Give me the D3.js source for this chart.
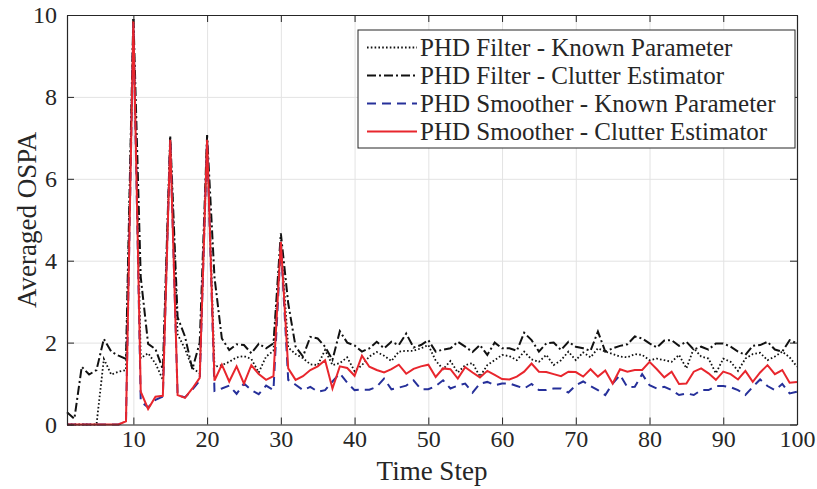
<!DOCTYPE html>
<html lang="en">
<head>
  <meta charset="UTF-8">
  <title>Averaged OSPA over Time Step</title>
  <script src="https://d3js.org/d3.v7.min.js"></script>
  <style>
    body {
      margin: 0;
      background: #ffffff;
      font-family: "Liberation Serif", "Times New Roman", serif;
    }
    .grid line {
      stroke: #e3e3e3;
      stroke-width: 1;
    }
    .grid path {
      display: none;
    }
    .axis path,
    .axis line {
      stroke: #262626;
    }
    .axis text {
      fill: #262626;
      font-family: "Liberation Serif", serif;
      font-size: 24px;
    }
  </style>
</head>
<body>
  <div id="chart"></div>
  <script>
    const timeSteps = d3.range(1, 101);
    const xTicks = [10, 20, 30, 40, 50, 60, 70, 80, 90, 100];
    const yTicks = [0, 2, 4, 6, 8, 10];

    const filterKnown = [
      0, 0, 0, 0, 0, 1.6, 1.22, 1.29, 1.33, 9.9,
      1.62, 1.74, 1.49, 1.09, 7.0, 2.2, 1.85, 1.38, 1.25, 7.0,
      1.41, 1.45, 1.53, 1.64, 1.67, 1.6, 1.27, 1.66, 1.8, 4.5,
      1.88, 1.72, 1.62, 1.47, 1.45, 1.82, 1.45, 1.5, 1.64, 1.3,
      1.45, 1.66, 1.77, 1.68, 1.55, 1.78, 1.8, 1.8, 1.86, 1.94,
      1.56, 1.35, 1.55, 1.27, 1.45, 1.5, 1.17, 1.45, 1.57, 1.7,
      1.67, 1.57, 1.78, 1.59, 1.53, 1.7, 1.45, 1.57, 1.78, 1.57,
      1.76, 1.64, 1.86, 1.78, 1.72, 1.66, 1.64, 1.72, 1.7, 1.57,
      1.61, 1.57, 1.53, 1.7, 1.37, 1.86, 1.66, 1.61, 1.25, 1.61,
      1.53, 1.31, 1.61, 1.72, 1.75, 1.57, 1.66, 1.78, 1.64, 1.41
    ];
    const filterEstimator = [
      0.3, 0.14, 1.41, 1.22, 1.33, 2.09, 1.78, 1.68, 1.6, 10.0,
      3.6, 1.97, 1.84, 1.35, 7.05, 2.62, 2.15, 1.35, 2.0, 7.07,
      3.6, 2.1, 1.82, 1.96, 1.94, 1.74, 1.97, 1.86, 1.98, 4.67,
      2.96, 1.9, 1.66, 2.14, 2.1, 1.9, 1.58, 2.28, 2.0, 1.93,
      1.78, 1.86, 2.02, 1.86, 2.02, 1.94, 2.22, 1.88, 1.94, 2.06,
      1.78, 1.83, 1.86, 2.02, 1.9, 1.77, 1.94, 1.7, 2.0, 1.86,
      1.86, 1.8, 2.24, 2.06, 1.78, 1.98, 2.0, 1.82, 2.02, 1.9,
      1.86, 1.8, 2.27, 1.78, 1.86, 1.92, 1.96, 2.15, 2.1, 1.98,
      1.88, 2.05, 2.06, 1.92, 2.02, 1.83, 1.9, 1.83, 1.98, 1.98,
      1.9, 1.78, 1.7, 1.92, 1.94, 2.02, 1.83, 1.78, 2.06, 1.98
    ];
    const smootherKnown = [
      0, 0, 0, 0, 0, 0, 0, 0, 0.08, 9.8,
      0.56, 0.42, 0.6, 0.68, 6.95, 0.72, 0.66, 0.85, 1.07, 6.95,
      0.82, 0.88, 0.95, 0.75, 1.0, 0.84, 0.74, 0.95, 0.84, 4.4,
      1.09, 0.97, 0.84, 0.92, 0.8, 0.84, 1.05, 1.25, 1.02, 0.84,
      0.85, 0.85, 0.92, 1.12, 0.86, 0.9, 0.95, 1.08, 0.86, 0.86,
      0.94, 1.08, 0.88, 0.95, 1.0, 0.78, 1.0, 1.04, 0.96, 1.0,
      1.0, 0.94, 0.88, 0.99, 0.84, 0.84, 0.88, 0.88, 0.78, 0.96,
      1.05, 0.94, 0.84, 0.72, 1.0, 1.21, 0.91, 0.92, 1.23, 0.96,
      0.88, 0.92, 0.84, 0.72, 0.76, 0.72, 0.84, 0.84, 0.94, 0.94,
      0.91, 0.84, 0.72, 0.92, 1.1, 0.94, 0.84, 0.99, 0.76, 0.8
    ];
    const smootherEstimator = [
      0, 0, 0, 0, 0, 0, 0, 0, 0.08, 9.85,
      0.8, 0.38, 0.68, 0.7, 6.95, 0.72, 0.65, 0.88, 1.14, 6.95,
      1.07, 1.46, 1.05, 1.42, 1.0, 1.45, 1.23, 1.09, 1.18, 4.46,
      1.37, 1.09, 1.18, 1.33, 1.42, 1.57, 0.88, 1.42, 1.38, 1.19,
      1.68, 1.41, 1.33, 1.27, 1.35, 1.46, 1.24, 1.36, 1.42, 1.46,
      1.16, 1.37, 1.35, 1.12, 1.4, 1.27, 1.15, 1.31, 1.21, 1.11,
      1.1, 1.17, 1.29, 1.49, 1.29, 1.28, 1.23, 1.18, 1.29, 1.28,
      1.17, 1.35, 1.17, 1.32, 1.0, 1.35, 1.29, 1.33, 1.33, 1.53,
      1.35, 1.15, 1.29, 0.99, 1.0, 1.29, 1.37, 1.25, 1.09, 1.29,
      1.23, 1.1, 1.31, 1.04, 1.27, 1.45, 1.23, 1.33, 1.02, 1.04
    ];

    const seriesNames = [
      "PHD Filter - Known Parameter",
      "PHD Filter - Clutter Estimator",
      "PHD Smoother - Known Parameter",
      "PHD Smoother - Clutter Estimator"
    ];

    const series = [
      {name: seriesNames[0], values: filterKnown, color: "#111", dash: "1.6,2.2", width: 1.8},
      {name: seriesNames[1], values: filterEstimator, color: "#111", dash: "9,3,2,3", width: 2},
      {name: seriesNames[2], values: smootherKnown, color: "#26309a", dash: "9,6", width: 2},
      {name: seriesNames[3], values: smootherEstimator, color: "#e8262d", dash: null, width: 2}
    ];

    const margin = {top: 15, right: 20, bottom: 64.5, left: 67},
      width = 817 - margin.left - margin.right,
      height = 489 - margin.top - margin.bottom;

    const svg = d3.select("#chart")
      .append("svg")
      .attr("width", 817)
      .attr("height", 489)
      .append("g")
      .attr("transform", "translate(" + margin.left + "," + margin.top + ")");

    const x = d3.scaleLinear().domain([1, 100]).range([0, width]);
    const y = d3.scaleLinear().domain([0, 10]).range([height, 0]);

    // grid
    svg.append("g")
      .attr("class", "grid")
      .attr("transform", "translate(0," + height + ")")
      .call(d3.axisBottom(x).tickValues(xTicks).tickSize(-height).tickFormat(""));
    svg.append("g")
      .attr("class", "grid")
      .call(d3.axisLeft(y).tickValues(yTicks).tickSize(-width).tickFormat(""));

    // lines
    const line = d3.line()
      .x((d, i) => x(timeSteps[i]))
      .y(d => y(d));

    const plot = svg.append("g");
    series.forEach(s => {
      plot.append("path")
        .datum(s.values)
        .attr("fill", "none")
        .attr("stroke", s.color)
        .attr("stroke-width", s.width)
        .attr("stroke-dasharray", s.dash)
        .attr("stroke-linejoin", "miter")
        .attr("d", line);
    });

    // axes, MATLAB style box with inner ticks
    svg.append("g")
      .attr("class", "axis")
      .attr("transform", "translate(0," + height + ")")
      .call(d3.axisBottom(x).tickValues(xTicks).tickSizeInner(-7).tickSizeOuter(0).tickPadding(5));
    svg.append("g")
      .attr("class", "axis")
      .call(d3.axisTop(x).tickValues(xTicks).tickSizeInner(-7).tickSizeOuter(0).tickFormat(""));
    svg.append("g")
      .attr("class", "axis")
      .call(d3.axisLeft(y).tickValues(yTicks).tickSizeInner(-7).tickSizeOuter(0).tickPadding(10));
    svg.append("g")
      .attr("class", "axis")
      .attr("transform", "translate(" + width + ",0)")
      .call(d3.axisRight(y).tickValues(yTicks).tickSizeInner(-7).tickSizeOuter(0).tickFormat(""));

    svg.selectAll(".axis path").attr("stroke-width", 1.2);

    // axis labels
    svg.append("text")
      .attr("x", width / 2)
      .attr("y", height + 55)
      .attr("text-anchor", "middle")
      .style("font-size", "27px")
      .attr("fill", "#262626")
      .text("Time Step");

    svg.append("text")
      .attr("transform", "rotate(-90)")
      .attr("x", -height / 2)
      .attr("y", -margin.left + 36)
      .attr("text-anchor", "middle")
      .style("font-size", "27px")
      .attr("fill", "#262626")
      .text("Averaged OSPA");

    // legend
    const lg = svg.append("g")
      .attr("transform", "translate(" + (358 - margin.left) + "," + (30 - margin.top) + ")");

    lg.append("rect")
      .attr("width", 437)
      .attr("height", 118)
      .attr("fill", "white")
      .attr("stroke", "#262626")
      .attr("stroke-width", 1);

    const rows = lg.selectAll(".row")
      .data(series)
      .enter().append("g")
      .attr("class", "row")
      .attr("transform", (d, i) => "translate(0," + (17.5 + i * 28) + ")");

    rows.append("line")
      .attr("x1", 9)
      .attr("x2", 59)
      .attr("stroke", d => d.color)
      .attr("stroke-width", d => d.width)
      .attr("stroke-dasharray", d => d.dash);

    rows.append("text")
      .attr("x", 62)
      .attr("dy", "0.35em")
      .style("font-size", "25px")
      .attr("fill", "#262626")
      .text(d => d.name);
  </script>
</body>
</html>
